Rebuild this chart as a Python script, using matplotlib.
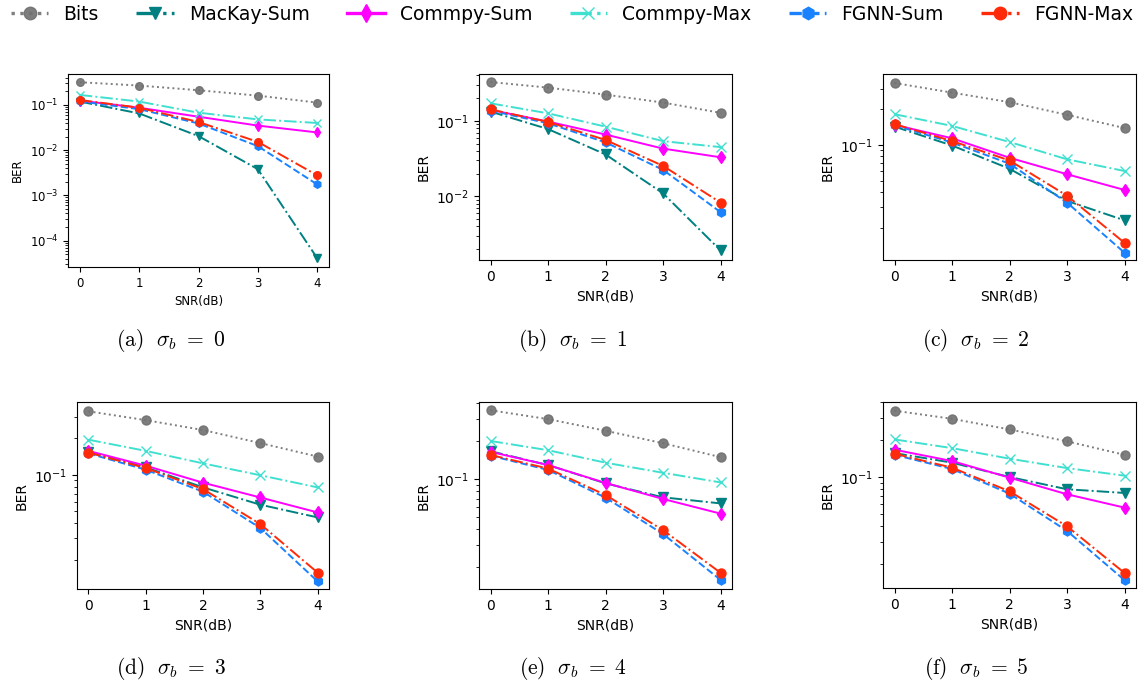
import numpy as np
import matplotlib
matplotlib.use("Agg")
import matplotlib.pyplot as plt
from matplotlib.lines import Line2D
from matplotlib.ticker import NullFormatter

plt.rcParams['mathtext.fontset'] = 'cm'

snr = [0, 1, 2, 3, 4]
sigmas = [0, 1, 2, 3, 4, 5]
panel_tags = ['a', 'b', 'c', 'd', 'e', 'f']

# BER per sigma_b (rows) and SNR (columns)
bits = [[0.319, 0.269, 0.212, 0.161, 0.113],
        [0.327, 0.276, 0.223, 0.175, 0.128],
        [0.334, 0.277, 0.230, 0.180, 0.139],
        [0.332, 0.281, 0.233, 0.182, 0.141],
        [0.350, 0.298, 0.241, 0.192, 0.149],
        [0.343, 0.295, 0.242, 0.194, 0.151]]
mackay_sum = [[0.119, 0.065, 0.0205, 0.0038, 4.1e-5],
              [0.133, 0.078, 0.036, 0.011, 0.00193],
              [0.143, 0.099, 0.063, 0.0337, 0.0231],
              [0.153, 0.115, 0.0787, 0.0567, 0.0446],
              [0.166, 0.129, 0.0924, 0.0716, 0.0641],
              [0.156, 0.1305, 0.100, 0.0796, 0.0743]]
commpy_sum = [[0.125, 0.087, 0.055, 0.035, 0.0247],
              [0.140, 0.098, 0.066, 0.043, 0.033],
              [0.148, 0.114, 0.078, 0.0566, 0.0417],
              [0.157, 0.1186, 0.086, 0.065, 0.049],
              [0.164, 0.129, 0.093, 0.0695, 0.0532],
              [0.166, 0.1345, 0.0988, 0.0725, 0.0566]]
commpy_max = [[0.167, 0.119, 0.0676, 0.048, 0.040],
              [0.171, 0.126, 0.084, 0.054, 0.045],
              [0.182, 0.145, 0.106, 0.0757, 0.0603],
              [0.194, 0.157, 0.124, 0.099, 0.0787],
              [0.200, 0.169, 0.1346, 0.112, 0.094],
              [0.201, 0.171, 0.1406, 0.118, 0.1025]]
fgnn_sum = [[0.120, 0.081, 0.039, 0.0123, 0.00175],
            [0.137, 0.093, 0.052, 0.0225, 0.0062],
            [0.147, 0.105, 0.0695, 0.0326, 0.0123],
            [0.1497, 0.110, 0.0725, 0.0365, 0.0133],
            [0.153, 0.118, 0.0712, 0.0367, 0.0159],
            [0.151, 0.116, 0.0734, 0.0367, 0.0147]]
fgnn_max = [[0.129, 0.087, 0.042, 0.0153, 0.00278],
            [0.142, 0.097, 0.056, 0.0254, 0.0083],
            [0.150, 0.108, 0.074, 0.0373, 0.0149],
            [0.152, 0.1135, 0.0762, 0.0393, 0.0157],
            [0.155, 0.121, 0.0747, 0.0394, 0.0181],
            [0.154, 0.119, 0.0766, 0.040, 0.0168]]

ylims = [(2.6e-5, 0.485), (0.00144, 0.418), (0.01067, 0.398),
         (0.0115, 0.396), (0.01346, 0.407), (0.0127, 0.403)]

names = ['Bits', 'MacKay-Sum', 'Commpy-Sum', 'Commpy-Max', 'FGNN-Sum', 'FGNN-Max']
series = [bits, mackay_sum, commpy_sum, commpy_max, fgnn_sum, fgnn_max]
styles = [dict(color='#707070', ls=':', marker='o', alpha=0.9),
          dict(color='#008080', ls='-.', marker='v'),
          dict(color='#ff00ff', ls='-', marker='d'),
          dict(color='#40e0d0', ls='-.', marker='x'),
          dict(color='#1a82ff', ls='--', marker='h'),
          dict(color='#ff2a0a', ls='-.', marker='o')]

W, H = 1139, 683
# axes boxes in pixels: left, top, right, bottom
boxes = [(68, 74, 329, 267), (479, 74, 732, 260), (883, 74, 1136, 260),
         (77, 402, 329, 589), (479, 402, 732, 589), (883, 402, 1136, 588)]
cap_pos = [(171, 341), (573, 341), (976, 341), (171, 668), (573, 668), (976, 668)]

fig = plt.figure(figsize=(W / 100, H / 100), dpi=100)

for i in range(6):
    l, t, r, b = boxes[i]
    ax = fig.add_axes([l / W, 1 - b / H, (r - l) / W, (b - t) / H])
    fs = 8.5 if i == 0 else 10
    ms = 5.5 if i == 0 else 6.5
    for s, st in zip(series, styles):
        ax.plot(snr, s[i], lw=1.4, ms=ms, **st)
    ax.set_yscale('log')
    ax.set_ylim(*ylims[i])
    ax.set_xticks(snr)
    ax.yaxis.set_minor_formatter(NullFormatter())
    ax.tick_params(labelsize=fs)
    ax.set_xlabel('SNR(dB)', fontsize=fs)
    ax.set_ylabel('BER', fontsize=fs)
    cx, cy = cap_pos[i]
    fig.text(cx / W, 1 - cy / H,
             r'$\mathrm{(%s)}\ \ \sigma_b\ =\ %d$' % (panel_tags[i], sigmas[i]),
             ha='center', va='center', fontsize=15.5)

handles = [Line2D([], [], lw=2.4, ms=9, **st) for st in styles]
fig.legend(handles, names, loc='center', bbox_to_anchor=(0.502, 0.979),
           ncol=6, frameon=False, fontsize=13.5)

fig.savefig('out.png', dpi=100)
